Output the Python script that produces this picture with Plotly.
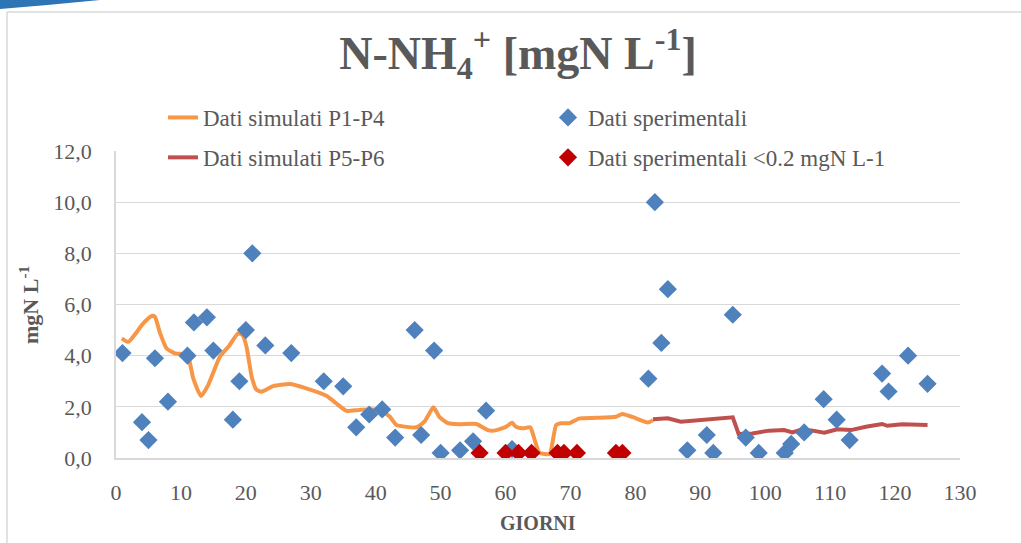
import plotly.graph_objects as go

# ---------------- data ----------------
sim_p1p4_days = [0.9, 1.9, 4.2, 5.5, 6.0, 6.8, 7.8, 9.1, 11.0, 11.9, 13.1, 14.2, 16.0, 17.5, 18.8,
                 19.5, 20.1, 20.9, 21.6, 22.4, 24.2, 26.8, 29.3, 32.4, 33.9, 35.5, 37.5, 40.6,
                 42.2, 43.2, 46.3, 47.5, 48.9, 49.8, 51.1, 52.9, 55.5, 57.3, 58.3, 60.1, 61.0,
                 61.6, 62.7, 63.8, 64.5, 65.2, 66.8, 67.3, 67.8, 68.6, 69.8, 71.4, 74.0, 77.0,
                 78.0, 80.1, 81.9, 82.7]
sim_p1p4_vals = [4.68, 4.54, 5.26, 5.55, 5.52, 4.87, 4.28, 4.09, 4.02, 3.11, 2.42, 2.85, 3.96, 4.41, 4.87,
                 4.80, 4.35, 3.18, 2.68, 2.59, 2.81, 2.89, 2.72, 2.43, 2.14, 1.84, 1.88, 1.88,
                 1.61, 1.29, 1.20, 1.42, 1.98, 1.61, 1.36, 1.32, 1.33, 1.09, 1.07, 1.22, 1.38,
                 1.22, 1.16, 1.20, 0.70, 0.21, 0.16, 0.70, 1.29, 1.36, 1.36, 1.55, 1.57, 1.61,
                 1.72, 1.55, 1.39, 1.48]

sim_p5p6_days = [82.7, 85.0, 87.0, 89.8, 92.9, 94.5, 95.0, 95.9, 98.0, 100.6, 102.9, 104.2, 105.7,
                 107.3, 109.1, 111.1, 113.2, 115.5, 118.0, 118.8, 121.1, 125.0]
sim_p5p6_vals = [1.51, 1.55, 1.42, 1.48, 1.52, 1.55, 1.59, 0.94, 0.96, 1.07, 1.09, 1.00, 1.12,
                 1.07, 0.99, 1.12, 1.09, 1.22, 1.33, 1.26, 1.32, 1.29]

exp_days = [1, 4, 5, 6, 8, 11, 12, 14, 15, 18, 19, 20, 21, 23, 27, 32, 35, 37, 39, 41, 43, 46, 47,
            49, 50, 53, 55, 57, 61, 82, 83, 84, 85, 88, 91, 92, 95, 97, 99, 103, 104, 106, 109,
            111, 113, 118, 119, 122, 125]
exp_vals = [4.1, 1.4, 0.7, 3.9, 2.2, 4.0, 5.3, 5.5, 4.2, 1.5, 3.0, 5.0, 8.0, 4.4, 4.1, 3.0, 2.8,
            1.2, 1.7, 1.9, 0.8, 5.0, 0.9, 4.2, 0.2, 0.3, 0.65, 1.85, 0.35, 3.1, 10.0, 4.5, 6.6,
            0.3, 0.9, 0.2, 5.6, 0.8, 0.2, 0.2, 0.55, 1.0, 2.3, 1.5, 0.7, 3.3, 2.6, 4.0, 2.9]

low_days = [56, 60, 62, 64, 68, 69, 71, 77, 78]
low_vals = [0.2, 0.2, 0.2, 0.2, 0.2, 0.2, 0.2, 0.2, 0.2]

x_ticks = [0, 10, 20, 30, 40, 50, 60, 70, 80, 90, 100, 110, 120, 130]
y_ticks = [0, 2, 4, 6, 8, 10, 12]

# ---------------- style ----------------
FONT = "Liberation Serif"
GREY = "#595959"
GRID = "#d9d9d9"
W, H = 1021, 543
ML, MR, MT, MB = 116, 61, 151, 85
PW, PH = W - ML - MR, H - MT - MB


def px_x(px):
    return (px - ML) / PW


def px_y(py):
    return (H - MB - py) / PH


fig = go.Figure()

fig.add_trace(go.Scatter(
    x=sim_p1p4_days, y=sim_p1p4_vals, mode="lines", name="Dati simulati P1-P4",
    line=dict(color="#F79646", width=4, shape="spline", smoothing=0.5),
    legend="legend", legendgroup="a"))
fig.add_trace(go.Scatter(
    x=sim_p5p6_days, y=sim_p5p6_vals, mode="lines", name="Dati simulati P5-P6",
    line=dict(color="#C0504D", width=4),
    legend="legend", legendgroup="b"))
fig.add_trace(go.Scatter(
    x=exp_days, y=exp_vals, mode="markers", name="Dati sperimentali",
    marker=dict(symbol="diamond", size=14, color="#4F81BD"),
    legend="legend2", legendgroup="c"))
fig.add_trace(go.Scatter(
    x=low_days, y=low_vals, mode="markers", name="Dati sperimentali <0.2 mgN L-1",
    marker=dict(symbol="diamond", size=14, color="#C00000"),
    legend="legend2", legendgroup="d"))

legend_common = dict(
    font=dict(family=FONT, size=23, color=GREY),
    bgcolor="rgba(0,0,0,0)", tracegroupgap=7,
    xanchor="left", yanchor="top", orientation="v", traceorder="grouped",
)

fig.update_layout(
    width=W, height=H,
    margin=dict(l=ML, r=MR, t=MT, b=MB),
    paper_bgcolor="white", plot_bgcolor="white",
    separators=",.",
    font=dict(family=FONT, color=GREY),
    title=dict(
        text="<b>N-NH<sub>4</sub><sup>+</sup> [mgN L<sup>-1</sup>]</b>",
        font=dict(family=FONT, size=46, color=GREY),
        x=518 / W, xanchor="center", y=1 - 53 / H, yanchor="middle",
    ),
    legend=dict(x=px_x(163), y=px_y(96), **legend_common),
    legend2=dict(x=px_x(548), y=px_y(96), **legend_common),
    xaxis=dict(
        range=[0, 130], tickvals=x_ticks, showgrid=False, zeroline=False,
        showline=True, linecolor=GRID, linewidth=1.5, ticks="",
        tickfont=dict(family=FONT, size=22, color=GREY), ticklabelstandoff=14,
    ),
    yaxis=dict(
        range=[0, 12], tickvals=y_ticks, tickformat=".1f", showgrid=True,
        gridcolor=GRID, gridwidth=1.3, zeroline=False,
        showline=True, linecolor=GRID, linewidth=1.5, ticks="",
        tickfont=dict(family=FONT, size=22, color=GREY), ticklabelstandoff=18,
    ),
    annotations=[
        dict(text="<b>GIORNI</b>", xref="paper", yref="paper", x=0.5, y=px_y(523),
             xanchor="center", yanchor="middle", showarrow=False,
             font=dict(family=FONT, size=20, color=GREY)),
        dict(text="<b>mgN L<sup>-1</sup></b>", xref="paper", yref="paper", x=px_x(29),
             y=px_y(305), xanchor="center", yanchor="middle", showarrow=False, textangle=-90,
             font=dict(family=FONT, size=22, color=GREY)),
    ],
    shapes=[
        dict(type="line", xref="paper", yref="paper", x0=px_x(7), x1=px_x(7), y0=px_y(12),
             y1=px_y(543), line=dict(color=GRID, width=1.5)),
        dict(type="line", xref="paper", yref="paper", x0=px_x(7), x1=px_x(1021), y0=px_y(12),
             y1=px_y(12), line=dict(color=GRID, width=1.5)),
        dict(type="path", xref="paper", yref="paper",
             path=(f"M {px_x(0)},{px_y(0)} L {px_x(100)},{px_y(0)} "
                   f"Q {px_x(50)},{px_y(5)} {px_x(0)},{px_y(9)} Z"),
             fillcolor="#2E75B6", line=dict(width=0)),
    ],
    showlegend=True,
)

fig.write_html(
    "out.html",
    config={"displayModeBar": False},
    post_script="document.body.style.margin='0';document.body.style.overflow='hidden';",
)
